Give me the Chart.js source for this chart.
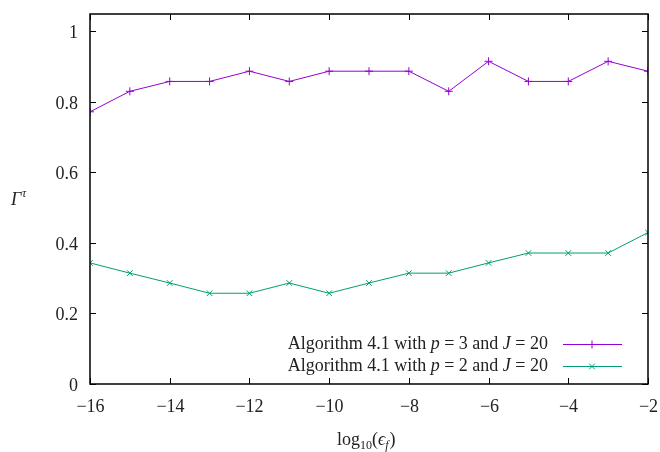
<!DOCTYPE html>
<html>
<head>
<meta charset="utf-8">
<script src="https://cdn.jsdelivr.net/npm/chart.js@4.4.0/dist/chart.umd.min.js"></script>
<style>
  html, body { margin: 0; padding: 0; background: #fff; }
  #wrap { width: 660px; height: 452px; }
</style>
</head>
<body>
<div id="wrap"><canvas id="chart" width="660" height="452"></canvas></div>
<script>
// log10(eps_f) values
const epsLog = [-16, -15, -14, -13, -12, -11, -10, -9, -8, -7, -6, -5, -4, -3, -2];
// Gamma^tau for p = 3, J = 20
const gammaP3 = [0.771, 0.829, 0.857, 0.857, 0.886, 0.857, 0.886, 0.886, 0.886, 0.829, 0.914, 0.857, 0.857, 0.914, 0.886];
// Gamma^tau for p = 2, J = 20
const gammaP2 = [0.343, 0.314, 0.286, 0.257, 0.257, 0.286, 0.257, 0.286, 0.314, 0.314, 0.343, 0.371, 0.371, 0.371, 0.429];
const xTicks = [-16, -14, -12, -10, -8, -6, -4, -2];
const yTicks = [0, 0.2, 0.4, 0.6, 0.8, 1];
const legendParts = [
    ['Algorithm 4.1 with ', 'p', ' = 3 and ', 'J', ' = 20'],
    ['Algorithm 4.1 with ', 'p', ' = 2 and ', 'J', ' = 20']
];

const FONT = '"Liberation Serif", "DejaVu Serif", serif';
const SIZE = 18;
const PURPLE = '#9400d3';
const GREEN = '#009e73';
const INK = '#222';

// draw a run of parts; odd-indexed parts are italic (math symbols)
function drawRun(ctx, parts, xRight, y) {
    const fonts = parts.map((p, i) => (i % 2 ? 'italic ' : '') + SIZE + 'px ' + FONT);
    let total = 0;
    parts.forEach((p, i) => { ctx.font = fonts[i]; total += ctx.measureText(p).width; });
    let x = xRight - total;
    ctx.textAlign = 'left';
    parts.forEach((p, i) => {
        ctx.font = fonts[i];
        ctx.fillText(p, x, y);
        x += ctx.measureText(p).width;
    });
}

// frame with inward ticks on all four sides, tick labels, axis titles and legend
const framePlugin = {
    id: 'frame',
    afterDraw(chart) {
        const ctx = chart.ctx;
        const a = chart.chartArea;
        const xs = chart.scales.x, ys = chart.scales.y;
        ctx.save();
        ctx.strokeStyle = '#000';
        ctx.lineWidth = 1.5;
        ctx.strokeRect(a.left, a.top, a.right - a.left, a.bottom - a.top);
        ctx.lineWidth = 1;
        const t = 6;
        ctx.fillStyle = INK;
        ctx.font = SIZE + 'px ' + FONT;
        xTicks.forEach(v => {
            const px = Math.round(xs.getPixelForValue(v)) + 0.5;
            ctx.beginPath();
            ctx.moveTo(px, a.bottom); ctx.lineTo(px, a.bottom - t);
            ctx.moveTo(px, a.top); ctx.lineTo(px, a.top + t);
            ctx.stroke();
            ctx.textAlign = 'center';
            ctx.textBaseline = 'alphabetic';
            ctx.fillText('\u2212' + Math.abs(v), px, a.bottom + 28);
        });
        yTicks.forEach(v => {
            const py = Math.round(ys.getPixelForValue(v)) + 0.5;
            ctx.beginPath();
            ctx.moveTo(a.left, py); ctx.lineTo(a.left + t, py);
            ctx.moveTo(a.right, py); ctx.lineTo(a.right - t, py);
            ctx.stroke();
            ctx.textAlign = 'right';
            ctx.textBaseline = 'alphabetic';
            ctx.fillText(String(Math.round(v * 10) / 10), a.left - 12, py + 6);
        });

        // y title: Γ^τ
        ctx.textBaseline = 'alphabetic';
        ctx.textAlign = 'left';
        ctx.font = 'italic ' + SIZE + 'px ' + FONT;
        ctx.fillText('Γ', 11, 205);
        ctx.font = 'italic 12px ' + FONT;
        ctx.fillText('τ', 22, 197);

        // x title: log10(ε_f)
        let cx = 337;
        const by = 445;
        const pieces = [
            ['log', SIZE + 'px ', 0],
            ['10', '12px ', 4],
            ['(', SIZE + 'px ', 0],
            ['ϵ', 'italic ' + SIZE + 'px ', 0],
            ['f', 'italic 12px ', 4],
            [')', SIZE + 'px ', 0]
        ];
        pieces.forEach(([s, f, dy]) => {
            ctx.font = f + FONT;
            ctx.fillText(s, cx, by + dy);
            cx += ctx.measureText(s).width + (s === 'f' ? 1 : 0);
        });

        // legend
        const colors = [PURPLE, GREEN];
        const styles = ['cross', 'crossRot'];
        ctx.textBaseline = 'middle';
        legendParts.forEach((parts, i) => {
            const ly = 344 + i * 22;
            ctx.fillStyle = INK;
            drawRun(ctx, parts, 548, ly);
            ctx.strokeStyle = colors[i];
            ctx.lineWidth = 1;
            ctx.beginPath();
            ctx.moveTo(563, ly + 0.5); ctx.lineTo(622, ly + 0.5);
            ctx.stroke();
            Chart.helpers.drawPoint(ctx, {pointStyle: styles[i], radius: 4, borderWidth: 1}, 592, ly + 0.5);
        });
        ctx.restore();
    }
};

new Chart(document.getElementById('chart'), {
    type: 'line',
    data: {
        labels: epsLog,
        datasets: [
            {
                label: 'p = 3, J = 20',
                data: epsLog.map((x, i) => ({x: x, y: gammaP3[i]})),
                borderColor: PURPLE,
                backgroundColor: PURPLE,
                borderWidth: 1,
                pointStyle: 'cross',
                pointRadius: 4,
                pointBorderWidth: 1,
                tension: 0
            },
            {
                label: 'p = 2, J = 20',
                data: epsLog.map((x, i) => ({x: x, y: gammaP2[i]})),
                borderColor: GREEN,
                backgroundColor: GREEN,
                borderWidth: 1,
                pointStyle: 'crossRot',
                pointRadius: 4,
                pointBorderWidth: 1,
                tension: 0
            }
        ]
    },
    options: {
        responsive: false,
        animation: false,
        layout: { padding: { top: 14, right: 12, left: 0, bottom: 0 } },
        plugins: {
            legend: { display: false },
            tooltip: { enabled: false }
        },
        scales: {
            x: {
                type: 'linear',
                min: -16,
                max: -2,
                afterBuildTicks: s => { s.ticks = xTicks.map(v => ({value: v})); },
                afterFit: s => { s.height = 68; },
                grid: { display: false, drawTicks: false },
                border: { display: false },
                ticks: { display: false }
            },
            y: {
                min: 0,
                max: 1.048,
                afterBuildTicks: s => { s.ticks = yTicks.map(v => ({value: v})); },
                afterFit: s => { s.width = 90; },
                grid: { display: false, drawTicks: false },
                border: { display: false },
                ticks: { display: false }
            }
        }
    },
    plugins: [framePlugin]
});
</script>
</body>
</html>
